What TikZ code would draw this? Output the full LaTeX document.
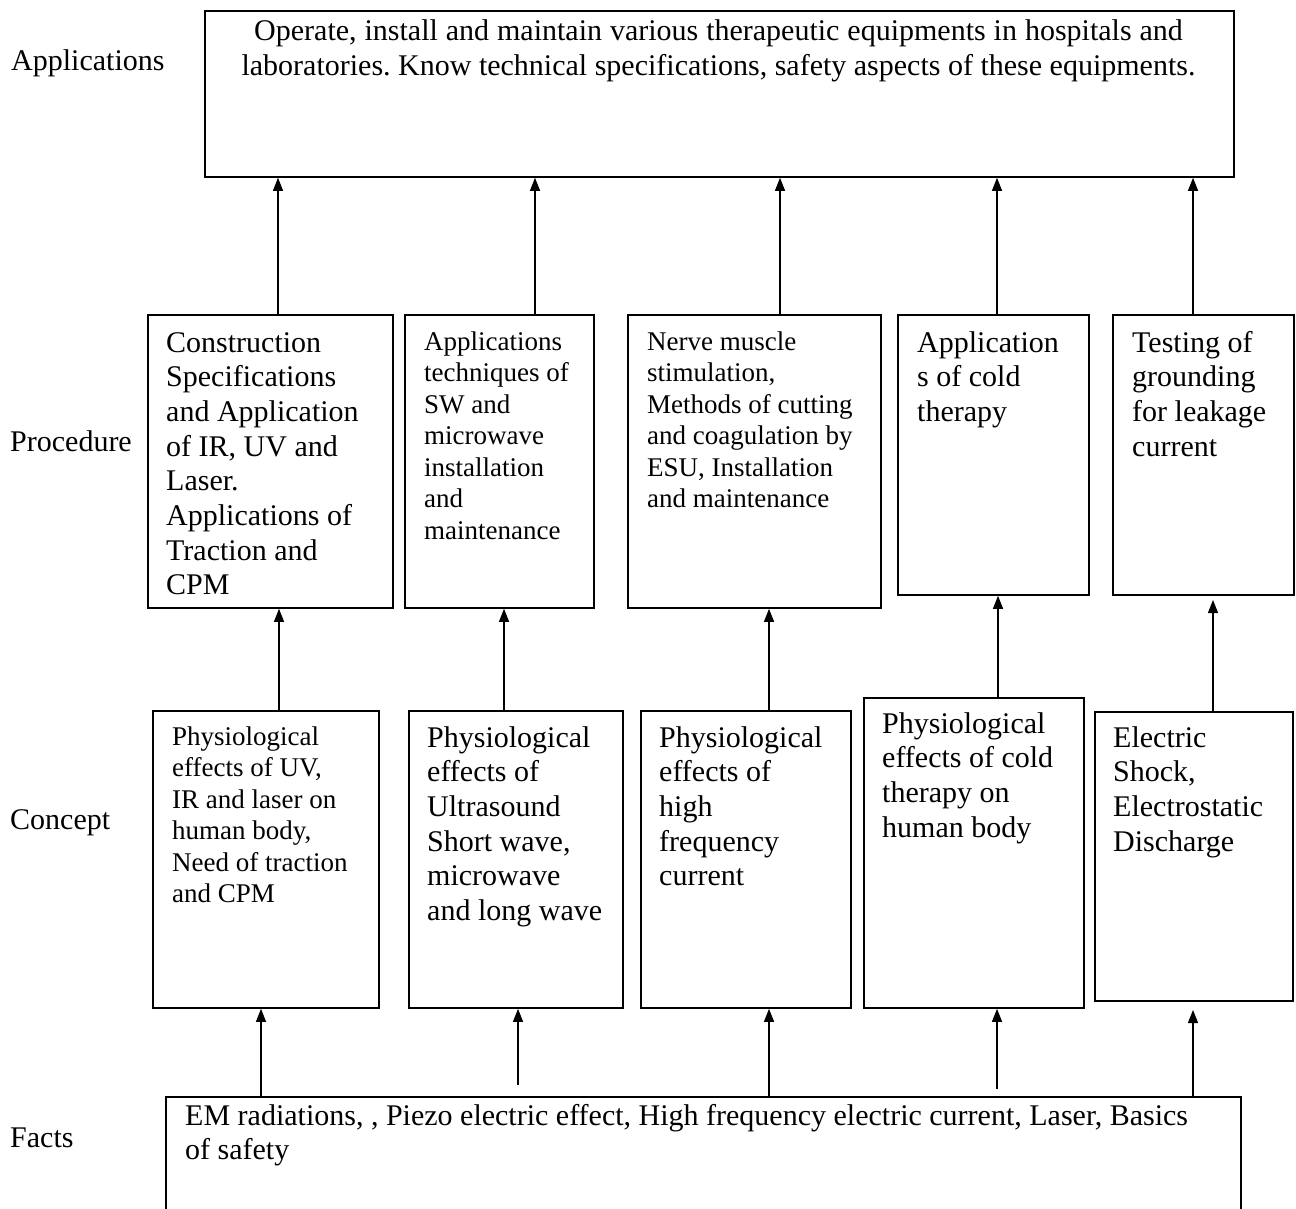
\documentclass[tikz,border=0pt]{standalone}
\usepackage{fontspec}
\setmainfont{Liberation Serif}
\usetikzlibrary{arrows.meta}
\frenchspacing
\newcommand\wsbig{\spaceskip=7.5pt plus 2pt minus 1pt\xspaceskip=7.5pt plus 2pt minus 1pt\relax}
\newcommand\wssmall{\spaceskip=6.75pt plus 2pt minus 1pt\xspaceskip=6.75pt plus 2pt minus 1pt\relax}
\newcommand\wstop{\spaceskip=6.4pt plus 2pt minus 1pt\xspaceskip=6.4pt plus 2pt minus 1pt\relax}
\begin{document}
\begin{tikzpicture}[x=1pt,y=-1pt,
  box/.style={draw, line width=1.8pt, rectangle, inner sep=0pt, anchor=north west},
  big/.style={font=\fontsize{30}{34.7}\selectfont},
  small/.style={font=\fontsize{27}{31.5}\selectfont},
  txt/.style={inner sep=0pt, anchor=base west, align=left, text width=#1},
  txt/.default=300pt,
  lbl/.style={inner sep=0pt, anchor=base west, font=\fontsize{30}{34.7}\selectfont},
  arr/.style={line width=1.2pt, -{Triangle[length=13pt,width=10pt]}}]
\useasboundingbox (0,0) rectangle (1296,1209);
\clip (0,0) rectangle (1296,1209);

% level labels
\node[lbl] (lapp) at (11,71) {Applications};
\node[lbl] (lproc) at (10,451) {Procedure};
\node[lbl] (lcon) at (10,829) {Concept};
\node[lbl] (lfac) at (10,1147) {Facts};

% applications box
\node[box, minimum width=1029pt, minimum height=166pt] (app) at (204,10) {};
\node[big, inner sep=0pt, anchor=base, align=center, text width=1020pt] (appt) at (718.5,41)
  {\wstop Operate, install and maintain various therapeutic equipments in hospitals and\\laboratories. Know technical specifications, safety aspects of these equipments.};

% procedure boxes
\node[box, minimum width=245pt, minimum height=293pt] (p1) at (147,314) {};
\node[big, txt] (p1t) at (166,352) {\wsbig Construction\\Specifications\\and Application\\of IR, UV and\\Laser.\\Applications of\\Traction and\\CPM};
\node[box, minimum width=189pt, minimum height=293pt] (p2) at (404,314) {};
\node[small, txt] (p2t) at (424,350) {\wssmall Applications\\techniques of\\SW and\\microwave\\installation\\and\\maintenance};
\node[box, minimum width=253pt, minimum height=293pt] (p3) at (627,314) {};
\node[small, txt] (p3t) at (647,350) {\wssmall Nerve muscle\\stimulation,\\Methods of cutting\\and coagulation by\\ESU, Installation\\and maintenance};
\node[box, minimum width=191pt, minimum height=280pt] (p4) at (897,314) {};
\node[big, txt] (p4t) at (917,352) {\wsbig Application\\s of cold\\therapy};
\node[box, minimum width=181pt, minimum height=280pt] (p5) at (1112,314) {};
\node[big, txt] (p5t) at (1132,352) {\wsbig Testing of\\grounding\\for leakage\\current};

% concept boxes
\node[box, minimum width=226pt, minimum height=297pt] (c1) at (152,710) {};
\node[small, txt] (c1t) at (172,745) {\wssmall Physiological\\effects of UV,\\IR and laser on\\human body,\\Need of traction\\and CPM};
\node[box, minimum width=214pt, minimum height=297pt] (c2) at (408,710) {};
\node[big, txt] (c2t) at (427,747) {\wsbig Physiological\\effects of\\Ultrasound\\Short wave,\\microwave\\and long wave};
\node[box, minimum width=210pt, minimum height=297pt] (c3) at (640,710) {};
\node[big, txt] (c3t) at (659,747) {\wsbig Physiological\\effects of\\high\\frequency\\current};
\node[box, minimum width=220pt, minimum height=310pt] (c4) at (863,697) {};
\node[big, txt] (c4t) at (882,733) {\wsbig Physiological\\effects of cold\\therapy on\\human body};
\node[box, minimum width=198pt, minimum height=289pt] (c5) at (1094,711) {};
\node[big, txt] (c5t) at (1113,747) {\wsbig Electric\\Shock,\\Electrostatic\\Discharge};

% facts box (runs past the lower edge)
\node[box, minimum width=1075pt, minimum height=200pt] (facts) at (165,1096) {};
\node[big, txt=1060pt] (factst) at (185,1125) {\wsbig EM radiations, , Piezo electric effect, High frequency electric current, Laser, Basics\\of safety};

% free ends
\coordinate (s2) at (518,1085);
\coordinate (s4) at (997,1089);
\coordinate (e5) at (1193,1010);
\coordinate (m5) at (1213,600);

% facts -> concept
\draw[arr] (facts.north -| 261,0) -- (c1.south -| 261,0);
\draw[arr] (s2) -- (c2.south -| s2);
\draw[arr] (facts.north -| 769,0) -- (c3.south -| 769,0);
\draw[arr] (s4) -- (c4.south -| s4);
\draw[arr] (facts.north -| e5) -- (e5);

% concept -> procedure
\draw[arr] (c1.north -| 279,0) -- (p1.south -| 279,0);
\draw[arr] (c2.north -| 504,0) -- (p2.south -| 504,0);
\draw[arr] (c3.north -| 769,0) -- (p3.south -| 769,0);
\draw[arr] (c4.north -| 998,0) -- (p4.south -| 998,0);
\draw[arr] (c5.north -| m5) -- (m5);

% procedure -> applications
\draw[arr] (p1.north -| 278,0) -- (app.south -| 278,0);
\draw[arr] (p2.north -| 535,0) -- (app.south -| 535,0);
\draw[arr] (p3.north -| 780,0) -- (app.south -| 780,0);
\draw[arr] (p4.north -| 997,0) -- (app.south -| 997,0);
\draw[arr] (p5.north -| 1193,0) -- (app.south -| 1193,0);
\end{tikzpicture}
\end{document}
